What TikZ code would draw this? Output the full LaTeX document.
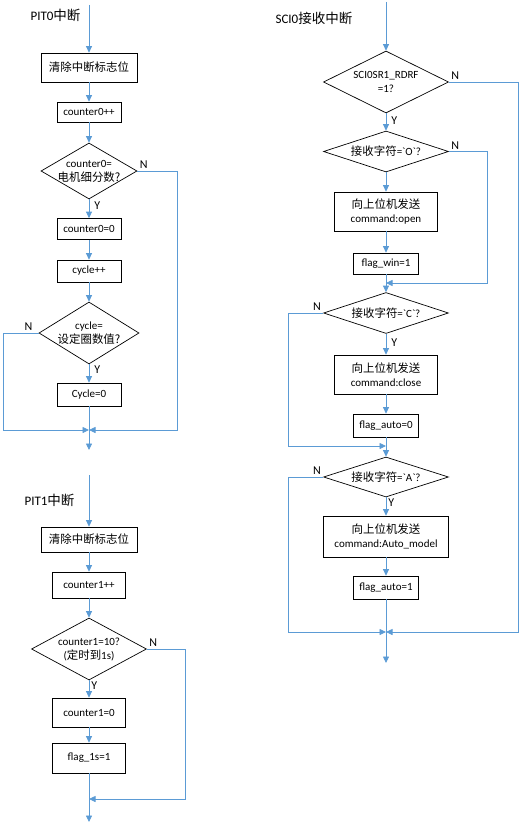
\documentclass[tikz,border=0pt]{standalone}
\usepackage{fontspec}
\setmainfont{Carlito}
\newfontfamily\cjk{Noto Sans CJK SC}[Scale=1.04]
\newcommand{\zh}[1]{{\cjk #1}}
\usetikzlibrary{arrows.meta,shapes.geometric}
\definecolor{lineblue}{HTML}{5B9BD5}

\begin{document}
\begin{tikzpicture}[x=1pt, y=-1pt,
	flow/.style={draw=lineblue, line width=0.8pt, -{Triangle[length=6.5pt, width=6pt]}},
	proc/.style={draw, line width=0.7pt, align=center, inner sep=1pt, font=\fontsize{11}{14}\selectfont},
	cond/.style={diamond, draw, line width=0.7pt, align=center, inner sep=-4pt, font=\fontsize{11}{14}\selectfont},
	yn/.style={font=\fontsize{12}{12}\selectfont, inner sep=2pt},
	title/.style={anchor=west, font=\fontsize{13}{14}\selectfont}]
	\useasboundingbox (0,0) rectangle (519,826);

	% PIT0
	\node[title] (p0title) at (27,15) {PIT0\zh{中断}};
	\coordinate (p0top) at (89,5);
	\node[proc, minimum width=96pt, minimum height=29pt] (p0clr) at (89,67.5) {\zh{清除中断标志位}};
	\node[proc, minimum width=64pt, minimum height=20pt] (p0inc) at (89,112) {counter0++};
	\node[cond, minimum width=96pt, minimum height=56pt, shape aspect=1.71] (p0chk) at (89,171) {counter0=\\\zh{电机细分数?}};
	\node[proc, minimum width=64pt, minimum height=21pt] (p0rst) at (89,229) {counter0=0};
	\node[proc, minimum width=64pt, minimum height=22pt] (p0cyc) at (89,271) {cycle++};
	\node[cond, minimum width=100pt, minimum height=62pt, shape aspect=1.61] (p0lap) at (89,333) {cycle=\\\zh{设定圈数值?}};
	\node[proc, minimum width=64pt, minimum height=23pt] (p0rc) at (89,394.5) {Cycle=0};
	\coordinate (p0m) at (89,430);
	\coordinate (p0r) at (177,430);
	\coordinate (p0l) at (3,430);
	\coordinate (p0end) at (89,450);
	\draw[flow] (p0top) -- (p0clr);
	\draw[flow] (p0clr) -- (p0inc);
	\draw[flow] (p0inc) -- (p0chk);
	\draw[flow] (p0chk) -- node[yn, right, pos=0.35, xshift=3pt] {Y} (p0rst);
	\draw[flow] (p0rst) -- (p0cyc);
	\draw[flow] (p0cyc) -- (p0lap);
	\draw[flow] (p0lap) -- node[yn, right, pos=0.3, xshift=3pt] {Y} (p0rc);
	\draw[flow] (p0rc) -- (p0end);
	\draw[flow] (p0chk.east) node[yn, above right] {N} -| (p0r) -- (p0m);
	\draw[flow] (p0lap.west) node[yn, above left, xshift=-4pt] {N} -| (p0l) -- (p0m);

	% PIT1
	\node[title] (p1title) at (21,500) {PIT1\zh{中断}};
	\coordinate (p1top) at (89,475);
	\node[proc, minimum width=96pt, minimum height=25pt] (p1clr) at (89,539.5) {\zh{清除中断标志位}};
	\node[proc, minimum width=73pt, minimum height=26pt] (p1inc) at (89,585) {counter1++};
	\node[cond, minimum width=115pt, minimum height=62pt, shape aspect=1.85] (p1chk) at (89,649) {counter1=10?\\(\zh{定时到}1s)};
	\node[proc, minimum width=73pt, minimum height=29pt] (p1rst) at (89,712.5) {counter1=0};
	\node[proc, minimum width=73pt, minimum height=30pt] (p1flag) at (89,758) {flag\_1s=1};
	\coordinate (p1m) at (89,799);
	\coordinate (p1r) at (185,799);
	\coordinate (p1end) at (89,822);
	\draw[flow] (p1top) -- (p1clr);
	\draw[flow] (p1clr) -- (p1inc);
	\draw[flow] (p1inc) -- (p1chk);
	\draw[flow] (p1chk) -- node[yn, right, pos=0.3] {Y} (p1rst);
	\draw[flow] (p1rst) -- (p1flag);
	\draw[flow] (p1flag) -- (p1end);
	\draw[flow] (p1chk.east) node[yn, above right] {N} -| (p1r) -- (p1m);

	% SCI0
	\node[title] (s0title) at (272,18) {SCI0\zh{接收中断}};
	\coordinate (s0top) at (386,2);
	\node[cond, minimum width=125pt, minimum height=62pt, shape aspect=2] (s0chk) at (386,82) {SCI0SR1\_RDRF\\=1?};
	\node[cond, minimum width=125pt, minimum height=41pt, shape aspect=3.05] (s0o) at (386,151.5) {\zh{接收字符}=\textasciigrave O\textasciigrave ?};
	\node[proc, minimum width=103pt, minimum height=39pt] (s0open) at (386,211.5) {\zh{向上位机发送}\\command:open};
	\node[proc, minimum width=65pt, minimum height=21pt] (s0win) at (386,263.5) {flag\_win=1};
	\node[cond, minimum width=125pt, minimum height=41pt, shape aspect=3.05] (s0c) at (386,313) {\zh{接收字符}=\textasciigrave C\textasciigrave ?};
	\node[proc, minimum width=103pt, minimum height=39pt] (s0close) at (386,374.5) {\zh{向上位机发送}\\command:close};
	\node[proc, minimum width=65pt, minimum height=23pt] (s0auto0) at (386,425.5) {flag\_auto=0};
	\node[cond, minimum width=125pt, minimum height=40pt, shape aspect=3.1] (s0a) at (386,477) {\zh{接收字符}=\textasciigrave A\textasciigrave ?};
	\node[proc, minimum width=125pt, minimum height=41pt] (s0model) at (386,536.5) {\zh{向上位机发送}\\command:Auto\_model};
	\node[proc, minimum width=65pt, minimum height=23pt] (s0auto1) at (386,587.5) {flag\_auto=1};
	\coordinate (s0m1) at (386,283);
	\coordinate (s0r1) at (487,283);
	\coordinate (s0m2) at (386,446);
	\coordinate (s0l2) at (288,446);
	\coordinate (s0m3) at (386,632);
	\coordinate (s0l3) at (288,632);
	\coordinate (s0r0) at (518,632);
	\coordinate (s0end) at (386,663);
	\draw[flow] (s0top) -- (s0chk);
	\draw[flow] (s0chk) -- node[yn, right, pos=0.4, xshift=3pt] {Y} (s0o);
	\draw[flow] (s0o) -- (s0open);
	\draw[flow] (s0open) -- (s0win);
	\draw[flow] (s0win) -- (s0c);
	\draw[flow] (s0c) -- node[yn, right, pos=0.4, xshift=3pt] {Y} (s0close);
	\draw[flow] (s0close) -- (s0auto0);
	\draw[flow] (s0auto0) -- (s0a);
	\draw[flow] (s0a) -- node[yn, right, pos=0.3] {Y} (s0model);
	\draw[flow] (s0model) -- (s0auto1);
	\draw[flow] (s0auto1) -- (s0end);
	\draw[flow] (s0chk.east) node[yn, above right] {N} -| (s0r0) -- (s0m3);
	\draw[flow] (s0o.east) node[yn, above right] {N} -| (s0r1) -- (s0m1);
	\draw[flow] (s0c.west) node[yn, above left] {N} -| (s0l2) -- (s0m2);
	\draw[flow] (s0a.west) node[yn, above left] {N} -| (s0l3) -- (s0m3);
\end{tikzpicture}
\end{document}
